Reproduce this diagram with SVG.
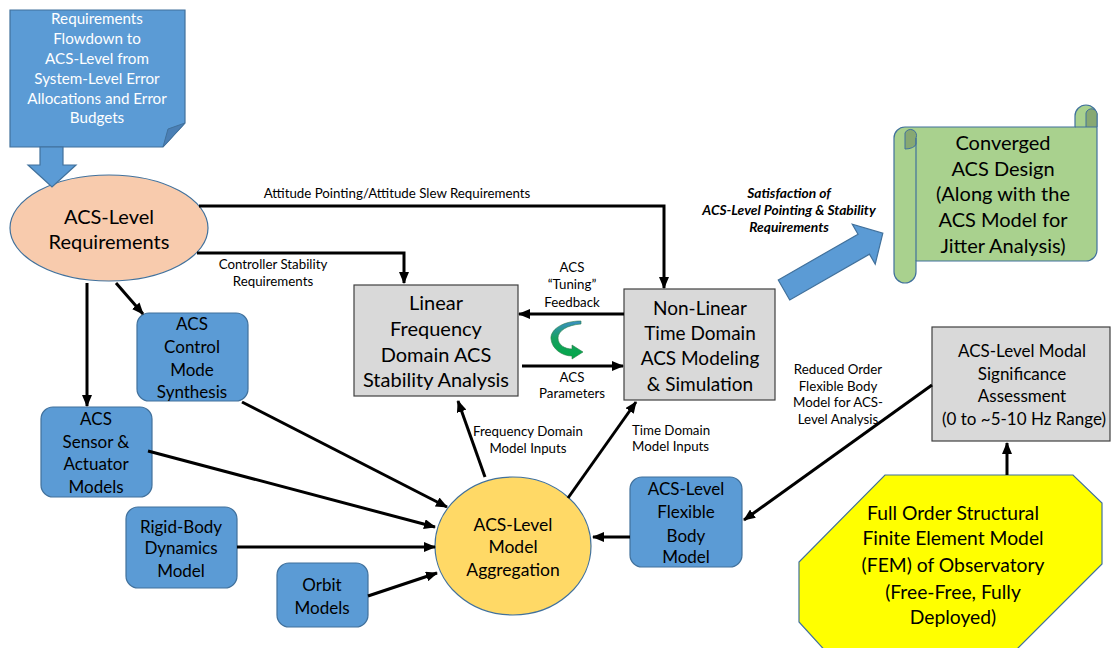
<svg xmlns="http://www.w3.org/2000/svg" width="1112" height="648" viewBox="0 0 1112 648">
<style>
text{font-family:Lato,"Liberation Sans",sans-serif;fill:#000;text-anchor:middle}
.doc text{fill:#fff;font-size:15.2px}
.lbl{font-size:13.3px}
.sat{font-size:13.8px;font-weight:bold;font-style:italic}
.blue{fill:#5b9bd5;stroke:#41719c;stroke-width:1.2}
.gray{fill:#d9d9d9;stroke:#404040;stroke-width:1.2}
.t16{font-size:17px}
.t18{font-size:19px}
.conn line,.conn polyline{stroke:#000;stroke-width:3;fill:none;marker-end:url(#ah)}
</style>
<defs>
<marker id="ah" markerUnits="userSpaceOnUse" viewBox="0 0 12 10" refX="11" refY="5" markerWidth="12" markerHeight="10" orient="auto">
<path d="M0,0 L12,5 L0,10 Z" fill="#000"/>
</marker>
<linearGradient id="gg" x1="0" y1="0" x2="0" y2="1">
<stop offset="0" stop-color="#3a8fc4"/>
<stop offset="0.45" stop-color="#18a060"/>
<stop offset="1" stop-color="#00a848"/>
</linearGradient>
</defs>

<g id="req-flowdown" class="doc">
<path class="blue" d="M10,10 L185,10 L185,123 L163,147 L10,147 Z"/>
<path d="M163,147 L168,129 L185,123 Z" fill="#4a7fb5" stroke="#41719c" stroke-width="1"/>
<text x="97" y="23.5">Requirements</text>
<text x="97" y="43.5">Flowdown to</text>
<text x="97" y="63.5">ACS-Level from</text>
<text x="97" y="83.5">System-Level Error</text>
<text x="97" y="103.5">Allocations and Error</text>
<text x="97" y="122.5">Budgets</text>
</g>

<g id="acs-req">
<ellipse cx="109" cy="228" rx="99" ry="53" fill="#f8cbad" stroke="#41719c" stroke-width="1.2"/>
<text x="109" y="224" style="font-size:20px">ACS-Level</text>
<text x="109" y="249" style="font-size:20px">Requirements</text>
</g>

<g id="flowdown-arrow">
<path class="blue" d="M40,147 L63,147 L63,165 L76,165 L52,187 L28,165 L40,165 Z"/>
</g>

<g id="linear">
<rect class="gray" x="354" y="285" width="164" height="111"/>
<text x="436" y="310" style="font-size:20px">Linear</text>
<text x="436" y="336" style="font-size:20px">Frequency</text>
<text x="436" y="362" style="font-size:20px">Domain ACS</text>
<text x="436" y="387" style="font-size:20px">Stability Analysis</text>
</g>

<g id="nonlinear">
<rect class="gray" x="624" y="289" width="151" height="111"/>
<text class="t18" x="700" y="315">Non-Linear</text>
<text class="t18" x="700" y="340">Time Domain</text>
<text class="t18" x="700" y="365">ACS Modeling</text>
<text class="t18" x="700" y="391">&amp; Simulation</text>
</g>

<g id="modal">
<rect class="gray" x="932" y="327" width="178" height="114"/>
<text class="t16" x="1022" y="357">ACS-Level Modal</text>
<text class="t16" x="1022" y="380">Significance</text>
<text class="t16" x="1022" y="402">Assessment</text>
<text class="t16" x="1024" y="425">(0 to ~5-10 Hz Range)</text>
</g>

<g id="fem">
<polygon points="885,475 1073,475 1102,503 1102,564 1010,656 830,656 799,622 799,562" fill="#ffff00" stroke="#41719c" stroke-width="1.2"/>
<text x="953" y="520" style="font-size:19.3px">Full Order Structural</text>
<text x="953" y="545" style="font-size:19.3px">Finite Element Model</text>
<text x="953" y="572" style="font-size:19.3px">(FEM) of Observatory</text>
<text x="953" y="599" style="font-size:19.3px">(Free-Free, Fully</text>
<text x="953" y="624" style="font-size:19.3px">Deployed)</text>
</g>

<g id="converged">
<path d="M894,138 A11,11 0 0 1 905,127 L1075,127 L1075,116 A11,11 0 0 1 1097,116 L1097,250 A11,11 0 0 1 1086,261 L916,261 L916,272 A11,11 0 0 1 894,272 Z" fill="#a9d18e" stroke="#41719c" stroke-width="1.2"/>
<path d="M1086,127 L1086,113 A5.5,5.5 0 0 1 1097,116 L1097,127 Z" fill="#87a872" stroke="#41719c" stroke-width="1"/>
<path d="M905,149 L905,133 A5.5,5.5 0 0 1 916,138 L916,144 A11,5.5 0 0 1 905,149 Z" fill="#87a872" stroke="#41719c" stroke-width="1"/>
<path d="M916,138 L916,261 M1075,127 L1086,127" fill="none" stroke="#41719c" stroke-width="1.2"/>
<text x="1003" y="150" style="font-size:20px">Converged</text>
<text x="1003" y="176" style="font-size:20px">ACS Design</text>
<text x="1003" y="201" style="font-size:20px">(Along with the</text>
<text x="1003" y="227" style="font-size:20px">ACS Model for</text>
<text x="1003" y="253" style="font-size:20px">Jitter Analysis)</text>
</g>

<g id="synthesis">
<rect class="blue" x="137" y="313" width="111" height="88" rx="12"/>
<text class="t16" x="192" y="330">ACS</text>
<text class="t16" x="192" y="353">Control</text>
<text class="t16" x="192" y="376">Mode</text>
<text class="t16" x="192" y="398">Synthesis</text>
</g>

<g id="sensor">
<rect class="blue" x="41" y="407" width="111" height="90" rx="12"/>
<text class="t16" x="96" y="425">ACS</text>
<text class="t16" x="96" y="448">Sensor &amp;</text>
<text class="t16" x="96" y="470">Actuator</text>
<text class="t16" x="96" y="493">Models</text>
</g>

<g id="rigid">
<rect class="blue" x="126" y="507" width="111" height="81" rx="12"/>
<text class="t16" x="181" y="533">Rigid-Body</text>
<text class="t16" x="181" y="554">Dynamics</text>
<text class="t16" x="181" y="577">Model</text>
</g>

<g id="orbit">
<rect class="blue" x="277" y="563" width="91" height="64" rx="12"/>
<text class="t16" x="322" y="591">Orbit</text>
<text class="t16" x="322" y="614">Models</text>
</g>

<g id="aggregation">
<ellipse cx="513" cy="546" rx="78" ry="69" fill="#ffd966" stroke="#41719c" stroke-width="1.2"/>
<text x="513" y="531" style="font-size:17.5px">ACS-Level</text>
<text x="513" y="553" style="font-size:17.5px">Model</text>
<text x="513" y="576" style="font-size:17.5px">Aggregation</text>
</g>

<g id="flexible">
<rect class="blue" x="630" y="477" width="112" height="90" rx="12"/>
<text class="t16" x="686" y="495">ACS-Level</text>
<text class="t16" x="686" y="518">Flexible</text>
<text class="t16" x="686" y="542">Body</text>
<text class="t16" x="686" y="563">Model</text>
</g>

<g id="satisfaction-arrow">
<path class="blue" transform="translate(784,290) rotate(-29.9)" d="M0,-11.5 L92,-11.5 L92,-23 L114,0 L92,23 L92,11.5 L0,11.5 Z"/>
</g>

<g id="tuning-icon">
<path d="M581,321 C562,321 550,330 551,339 C552,349 562,356 572,356 L572,359 L583,352 L572,345 L572,349 C565,349 558,345 558,338 C558,331 567,325 581,324 Z" fill="url(#gg)" stroke="#2e7d4a" stroke-width="0.6"/>
</g>

<g id="connectors" class="conn">
<polyline points="199,206 664,206 664,288"/>
<polyline points="197,253 404,253 404,283"/>
<line x1="624" y1="314" x2="519" y2="314"/>
<line x1="522" y1="366" x2="623" y2="366"/>
<line x1="485" y1="477" x2="458" y2="401"/>
<line x1="568" y1="498" x2="636" y2="402"/>
<line x1="932" y1="385" x2="744" y2="520"/>
<line x1="1007" y1="475" x2="1007" y2="443"/>
<line x1="630" y1="537" x2="593" y2="537"/>
<line x1="87" y1="283" x2="87" y2="406"/>
<line x1="116" y1="283" x2="143" y2="314"/>
<line x1="242" y1="402" x2="447" y2="507"/>
<line x1="148" y1="451" x2="435" y2="527"/>
<line x1="237" y1="547" x2="435" y2="547"/>
<line x1="368" y1="596" x2="437" y2="573"/>
</g>

<g id="labels">
<text class="lbl" x="397" y="198">Attitude Pointing/Attitude Slew Requirements</text>
<text class="lbl" x="273" y="269">Controller Stability</text>
<text class="lbl" x="273" y="286">Requirements</text>
<text class="lbl" x="572" y="272">ACS</text>
<text class="lbl" x="572" y="289">“Tuning”</text>
<text class="lbl" x="572" y="307">Feedback</text>
<text class="lbl" x="572" y="382">ACS</text>
<text class="lbl" x="572" y="398">Parameters</text>
<text class="lbl" x="528" y="436">Frequency Domain</text>
<text class="lbl" x="528" y="453">Model Inputs</text>
<text class="lbl" x="632" y="435" style="text-anchor:start">Time Domain</text>
<text class="lbl" x="632" y="451" style="text-anchor:start">Model Inputs</text>
<text class="lbl" x="838" y="374">Reduced Order</text>
<text class="lbl" x="838" y="391">Flexible Body</text>
<text class="lbl" x="838" y="407">Model for ACS-</text>
<text class="lbl" x="838" y="424">Level Analysis</text>
<text class="sat" x="789" y="198">Satisfaction of</text>
<text class="sat" x="789" y="215">ACS-Level Pointing &amp; Stability</text>
<text class="sat" x="789" y="232">Requirements</text>
</g>
</svg>
